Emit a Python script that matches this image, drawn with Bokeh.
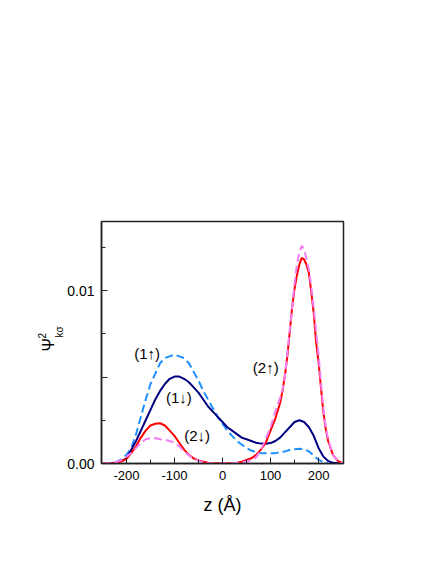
from bokeh.plotting import figure
from bokeh.models import Range1d, FixedTicker, CustomJSTickFormatter, Label, Title
from bokeh.embed import file_html
from bokeh.resources import INLINE

# ---- data ----
z_coarse = list(range(-250, 251, 10))

psi_1_down = [0, 0, 0.00002, 0.00006, 0.00015, 0.0003, 0.0008, 0.0013, 0.0019, 0.0025,
              0.0031, 0.0037, 0.0042, 0.0046, 0.0049, 0.00503, 0.00503, 0.0049, 0.0047, 0.0044,
              0.0041, 0.0037, 0.0033, 0.0030, 0.0027, 0.0024, 0.0021, 0.0019, 0.0017, 0.0015,
              0.0014, 0.0013, 0.0012, 0.00115, 0.00114, 0.00118, 0.0013, 0.0015, 0.0018, 0.0021,
              0.0024, 0.0025, 0.0024, 0.0021, 0.0016, 0.0009, 0.0004, 0.00015, 0.00004, 0.00001, 0]

psi_1_up = [0, 0.00001, 0.00003, 0.0001, 0.00025, 0.0005, 0.0009, 0.0017, 0.0027, 0.0037,
            0.0046, 0.0052, 0.0058, 0.0061, 0.0062, 0.0063, 0.0062, 0.0061, 0.0058, 0.0053,
            0.0048, 0.0042, 0.0037, 0.0032, 0.0027, 0.0023, 0.0019, 0.0016, 0.0013, 0.0011,
            0.0009, 0.00075, 0.00065, 0.0006, 0.0006, 0.0006, 0.0006, 0.00065, 0.0007, 0.00078,
            0.00083, 0.00085, 0.00082, 0.0007, 0.00046, 0.00022, 0.00008, 0.00002, 0, 0, 0]

z_fine = list(range(-250, 121, 10)) + list(range(125, 221, 5)) + [230, 240, 250]

psi_2_solid = [0, 0.00001, 0.00002, 0.00005, 0.00013, 0.00027, 0.0006, 0.001, 0.0015, 0.0019,
               0.0022, 0.0023, 0.00233, 0.0022, 0.0019, 0.0016, 0.0012, 0.0008, 0.0005, 0.0003,
               0.00018, 0.0001, 0.00005, 0.00002, 0.00001, 0, 0.00001, 0.00002, 0.00005, 0.0001,
               0.0002, 0.0003, 0.0005, 0.0008, 0.0012, 0.0019, 0.0026, 0.0035,
               0.0042, 0.0051, 0.0062, 0.0076, 0.0090, 0.0101, 0.0109, 0.0115, 0.0119, 0.0118,
               0.0115, 0.0110, 0.0099, 0.0087, 0.0070, 0.0059, 0.0044, 0.0030, 0.0020, 0.0013,
               0.0005, 0.00015, 0.00003]

psi_2_dash = [0.00002, 0.00003, 0.00005, 0.0001, 0.0002, 0.0004, 0.0006, 0.0009, 0.0012, 0.0014,
              0.00146, 0.00147, 0.0014, 0.00137, 0.0013, 0.0012, 0.001, 0.0007, 0.00047, 0.00028,
              0.00015, 0.00007, 0.00003, 0.00001, 0, 0, 0.00001, 0.00002, 0.00004, 0.00007,
              0.00012, 0.0002, 0.00035, 0.0008, 0.0014, 0.0021, 0.003, 0.0038,
              0.0043, 0.0050, 0.0064, 0.0077, 0.0090, 0.0104, 0.0115, 0.0122, 0.0126, 0.0124,
              0.0118, 0.0112, 0.0102, 0.0090, 0.0076, 0.0063, 0.0047, 0.0032, 0.0021, 0.0014,
              0.0005, 0.00013, 0.00003]

x_major = [-200, -100, 0, 100, 200]
x_minor = [-150, -50, 50, 150]
y_major = [0, 0.005, 0.01]
y_minor = [0.0025, 0.0075, 0.0125]

FONT = "Liberation Sans"

p = figure(width=420, height=548, output_backend="svg", toolbar_location=None,
           x_range=Range1d(-252, 252), y_range=Range1d(0, 0.014),
           min_border_left=101, min_border_right=77, min_border_top=221, min_border_bottom=85)

p.xgrid.visible = False
p.ygrid.visible = False
p.outline_line_color = "#222222"
p.outline_line_width = 1.5
p.background_fill_color = "white"
p.border_fill_color = "white"

# curves
p.line(z_coarse, psi_1_up, line_color="#1E8FFF", line_width=2, line_dash="8 4")
p.line(z_coarse, psi_1_down, line_color="#000080", line_width=2)
p.line(z_fine, psi_2_solid, line_color="#FF0000", line_width=2)
p.line(z_fine, psi_2_dash, line_color="#F47FF4", line_width=2, line_dash="8 4")

# axes
for ax in (p.xaxis[0], p.yaxis[0]):
    ax.axis_line_width = 1.5
    ax.axis_line_color = "#222222"
    ax.major_tick_in = 6
    ax.major_tick_out = 0
    ax.minor_tick_in = 4
    ax.minor_tick_out = 0
    ax.major_tick_line_color = "#222222"
    ax.minor_tick_line_color = "#222222"
    ax.major_label_text_font = FONT
    ax.major_label_text_color = "black"

p.xaxis.ticker = FixedTicker(ticks=x_major, minor_ticks=x_minor)
p.yaxis.ticker = FixedTicker(ticks=y_major, minor_ticks=y_minor)
p.xaxis.formatter = CustomJSTickFormatter(code="return tick.toFixed(0);")
p.yaxis.formatter = CustomJSTickFormatter(
    code="if (Math.abs(tick) < 1e-9) return '0.00'; if (Math.abs(tick - 0.01) < 1e-9) return '0.01'; return '';")
p.xaxis.major_label_text_font_size = "13px"
p.yaxis.major_label_text_font_size = "14px"
p.xaxis.major_label_standoff = 7
p.yaxis.major_label_standoff = 7

p.xaxis.axis_label = "z (Å)"
p.xaxis.axis_label_text_font = FONT
p.xaxis.axis_label_text_font_size = "18px"
p.xaxis.axis_label_text_font_style = "normal"
p.xaxis.axis_label_text_color = "black"
p.xaxis.axis_label_standoff = 12

# y label  Psi^2_{k sigma}: three side titles stacked outward from the axis
for txt, size, offset, standoff in [("kσ", "10px", 126, 0),
                                    ("Ψ", "16px", 112, -10),
                                    ("2", "10px", 125, -6)]:
    p.add_layout(Title(text=txt, align="left", offset=offset, standoff=standoff,
                       text_font=FONT, text_font_size=size, text_font_style="normal",
                       text_color="black"), "left")

# curve labels
for txt, x, y in [("(1↑)", -157, 0.00634), ("(1↓)", -91, 0.0038),
                  ("(2↓)", -53, 0.00162), ("(2↑)", 90, 0.00555)]:
    p.add_layout(Label(x=x, y=y, text=txt, text_font=FONT, text_font_size="15px",
                       text_align="center", text_baseline="middle", text_color="black"))

open("out.html", "w").write(file_html(p, INLINE))
